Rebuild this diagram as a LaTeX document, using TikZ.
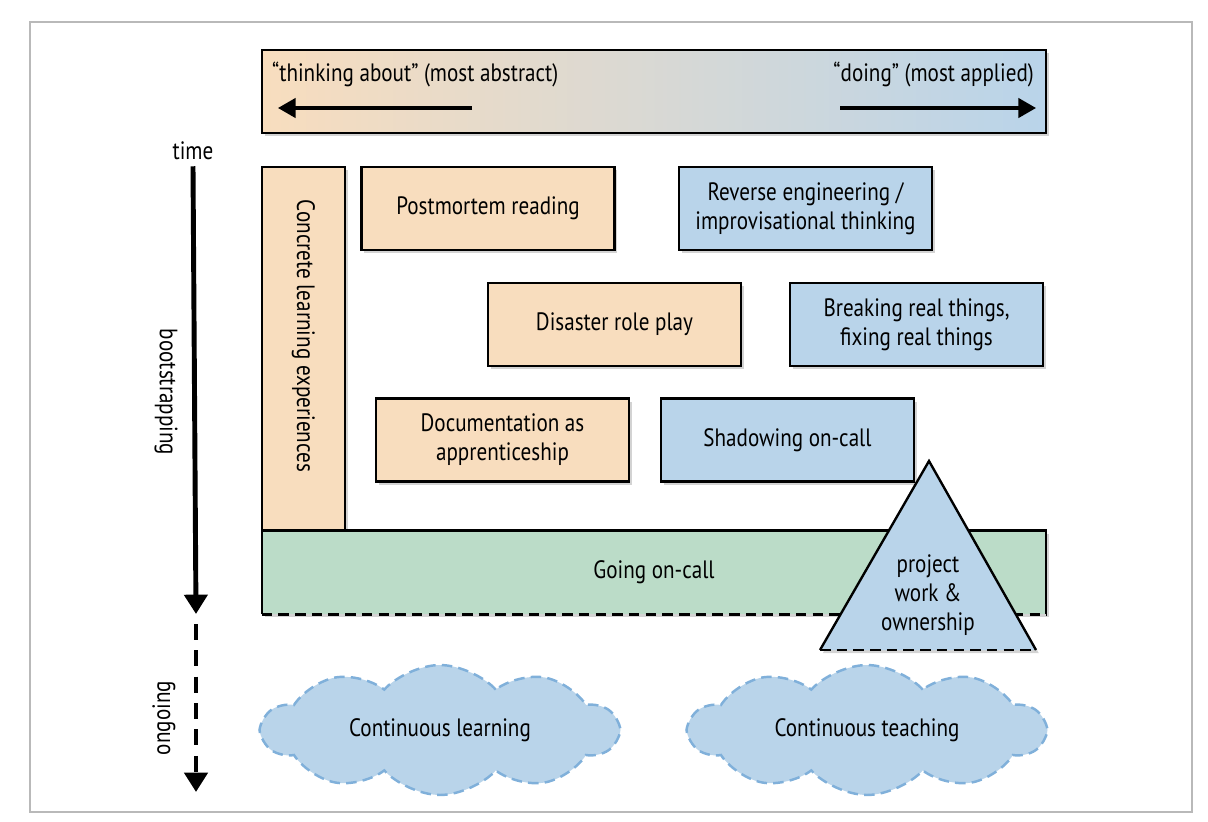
\documentclass[tikz,border=0pt]{standalone}
\usepackage{fontspec}
\setmainfont[FakeStretch=0.84]{PT Sans}
\usetikzlibrary{arrows.meta,shadows,shapes.symbols}

\definecolor{abstractfill}{HTML}{F8DDBE}
\definecolor{appliedfill}{HTML}{B9D4EA}
\definecolor{oncallfill}{HTML}{BBDCC8}
\definecolor{cloudline}{HTML}{80B0DA}

\tikzset{
  boxshadow/.style={drop shadow={shadow xshift=1.6pt, shadow yshift=-1.8pt, opacity=0.35}},
  stagebox/.style={draw, line width=1.35pt, minimum width=5.06cm, minimum height=1.66cm,
    align=center, boxshadow, font=\fontsize{14.3}{16.5}\selectfont},
  abstractbox/.style={stagebox, fill=abstractfill},
  appliedbox/.style={stagebox, fill=appliedfill},
  widebar/.style={minimum width=15.68cm, minimum height=1.66cm, boxshadow},
  timeline/.style={line width=2.8pt, -{Triangle[length=11pt, width=13pt]}},
  thoughtcloud/.style={cloud, cloud puffs=10, cloud puff arc=95, cloud ignores aspect,
    minimum width=7.1cm, minimum height=2.6cm, draw=cloudline, fill=appliedfill,
    line width=1.4pt, dash pattern=on 6pt off 3.5pt, font=\fontsize{14.3}{16.5}\selectfont},
  sidelabel/.style={font=\fontsize{14.3}{16.5}\selectfont},
}

\begin{document}
\begin{tikzpicture}[x=0.02cm, y=-0.02cm]
  \useasboundingbox (0,0) rectangle (1208,822);
  % Frame
  \draw[gray!55, line width=0.6pt] (30,22) rectangle (1192,812);

  % Abstract -> applied bar
  \node[widebar, draw, line width=1.35pt, left color=abstractfill, right color=appliedfill] (scale) at (654,91.5) {};
  \node[sidelabel, anchor=west] (abstract) at (266,74) {“thinking about” (most abstract)};
  \node[sidelabel, anchor=east] (applied) at (1040,74) {“doing” (most applied)};
  \coordinate (lefttail) at (472,108);
  \coordinate (lefthead) at (278,108);
  \coordinate (righttail) at (840,108);
  \coordinate (righthead) at (1036,108);
  \draw[line width=1.8pt, -{Triangle[length=10pt, width=11pt]}] (lefttail) -- (lefthead);
  \draw[line width=1.8pt, -{Triangle[length=10pt, width=11pt]}] (righttail) -- (righthead);

  % Time axis
  \node[sidelabel] (time) at (193,151) {time};
  \coordinate (bootend) at (196,614);
  \coordinate (ongoingstart) at (196,624);
  \coordinate (ongoingend) at (196,792);
  \draw[timeline] (time.south) -- (bootend);
  \draw[timeline, dash pattern=on 9pt off 6pt] (ongoingstart) -- (ongoingend);
  \node[sidelabel, rotate=-90] (bootstrapping) at (166,392) {bootstrapping};
  \node[sidelabel, rotate=90] (ongoing) at (164,718) {ongoing};

  % Learning activities
  \node[abstractbox, minimum width=1.66cm, minimum height=7.28cm] (concrete) at (303.5,349) {};
  \node[sidelabel, rotate=-90] (concretetext) at (303.5,336) {Concrete learning experiences};
  \node[abstractbox] (postmortem) at (488,208.5) {Postmortem reading};
  \node[appliedbox] (reverse) at (805.5,208.5) {Reverse engineering /\\improvisational thinking};
  \node[abstractbox] (roleplay) at (614.5,324.5) {Disaster role play};
  \node[appliedbox] (breaking) at (916.5,324.5) {Breaking real things,\\fixing real things};
  \node[abstractbox] (docs) at (502.5,440) {Documentation as\\apprenticeship};
  \node[appliedbox] (shadowing) at (787.5,440) {Shadowing on-call};

  % Going on-call
  \node[widebar, fill=oncallfill, font=\fontsize{14.3}{16.5}\selectfont] (oncall) at (654,572.5) {Going on-call};
  \draw[line width=1.35pt] (oncall.south west) -- (oncall.north west) -- (oncall.north east) -- (oncall.south east);
  \draw[line width=1.35pt, dash pattern=on 6pt off 3.5pt] (oncall.south west) -- (oncall.south east);

  % Project work triangle
  \coordinate (apex) at (929,461);
  \coordinate (baseleft) at (820,650);
  \coordinate (baseright) at (1036,650);
  \fill[appliedfill, boxshadow] (apex) -- (baseright) -- (baseleft) -- cycle;
  \draw[line width=1.35pt] (baseleft) -- (apex) -- (baseright);
  \draw[line width=1.35pt, dash pattern=on 6pt off 3.5pt] (baseleft) -- (baseright);
  \node[sidelabel, align=center] (project) at (928,595) {project\\work \&\\ownership};

  % Ongoing clouds
  \node[thoughtcloud] (learning) at (440,730) {Continuous learning};
  \node[thoughtcloud] (teaching) at (867,730) {Continuous teaching};
\end{tikzpicture}
\end{document}
